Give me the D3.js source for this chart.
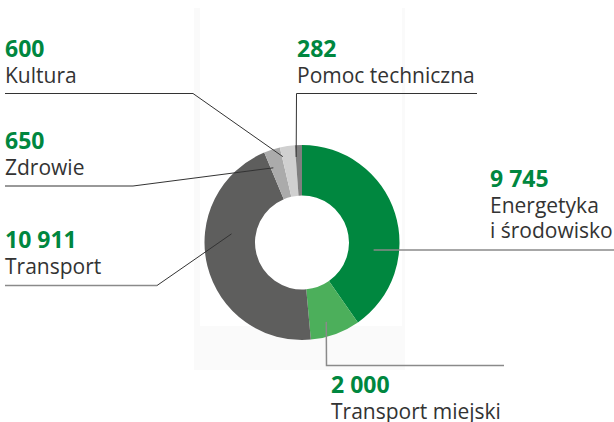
<!DOCTYPE html>
<html>
<head>
<meta charset="utf-8">
<script src="https://cdn.jsdelivr.net/npm/d3@7"></script>
<style>
  body { margin: 0; background: #fff; }
  svg { display: block; font-family: 'Open Sans', sans-serif; }
</style>
</head>
<body>
<svg id="svg" width="614" height="422"></svg>
<script>
// values, clockwise from the top
const categories = ['Energetyka i środowisko', 'Transport miejski', 'Transport', 'Zdrowie', 'Kultura', 'Pomoc techniczna']
const values = [9745, 2000, 10911, 650, 600, 282]
const valueLabels = ['9 745', '2 000', '10 911', '650', '600', '282']
const colors = ['#00873f', '#4caf5b', '#5e5e5d', '#ababab', '#d0d0d0', '#7f7f7f']

// where each label sits and how its leader line runs
const labelLayout = [
  { x: 490, y: 187, lines: ['Energetyka', 'i środowisko'], path: [[614, 250]], at: [96, 72], rule: 'soft' },
  { x: 331, y: 392.5, lines: ['Transport miejski'], path: [[504, 365.5], [326.5, 365.5]], at: [163, 83], rule: 'soft' },
  { x: 5, y: 248, lines: ['Transport'], path: [[5, 285.5], [157, 285.5]], at: [277, 71], rule: 'mixed' },
  { x: 5, y: 149, lines: ['Zdrowie'], path: [[5, 186], [133, 186]], at: [339, 80], rule: 'dark' },
  { x: 5, y: 56.5, lines: ['Kultura'], path: [[5, 93.5], [193, 93.5]], at: [347.4, 88], rule: 'dark' },
  { x: 297, y: 56.5, lines: ['Pomoc techniczna'], path: [[477, 93.5], [296.5, 93.5]], at: [356.1, 85.7], rule: 'dark' }
]

const cx = 302, cy = 242.5
const svg = d3.select('#svg')

// faint frame behind the donut
svg.append('rect').attr('x', 194).attr('y', 8).attr('width', 211).attr('height', 362).attr('fill', '#fafafa')
svg.append('rect').attr('x', 200).attr('y', 0).attr('width', 202).attr('height', 326).attr('fill', '#fff')

const pie = d3.pie().sort(null).value(d => d)
const arc = d3.arc().innerRadius(47).outerRadius(97.5)

const g = svg.append('g').attr('transform', `translate(${cx},${cy})`)
g.selectAll('path')
  .data(pie(values))
  .join('path')
  .attr('d', arc)
  .attr('fill', (d, i) => colors[i])

const line = d3.line()

function rule(pts, soft) {
  svg.append('path').attr('d', line(pts))
    .attr('stroke', soft ? '#8a8a8a' : '#333')
    .attr('stroke-width', soft ? 1.5 : 1)
    .attr('fill', 'none')
}

labelLayout.forEach((l, i) => {
  const p = d3.pointRadial(l.at[0] * Math.PI / 180, l.at[1])
  const anchor = [cx + p[0], cy + p[1]]
  const pts = l.path.concat([anchor])

  if (l.rule === 'mixed') {
    rule(l.path, true)
    rule([l.path[l.path.length - 1], anchor], false)
  } else {
    rule(pts, l.rule === 'soft')
  }

  svg.append('text')
    .attr('x', l.x).attr('y', l.y)
    .attr('fill', '#00873f').attr('font-weight', 700).attr('font-size', 23)
    .text(valueLabels[i])

  l.lines.forEach((t, j) => {
    svg.append('text')
      .attr('x', l.x).attr('y', l.y + 26 + j * 25)
      .attr('fill', '#333').attr('font-size', 21)
      .text(t)
  })
})
</script>
</body>
</html>
